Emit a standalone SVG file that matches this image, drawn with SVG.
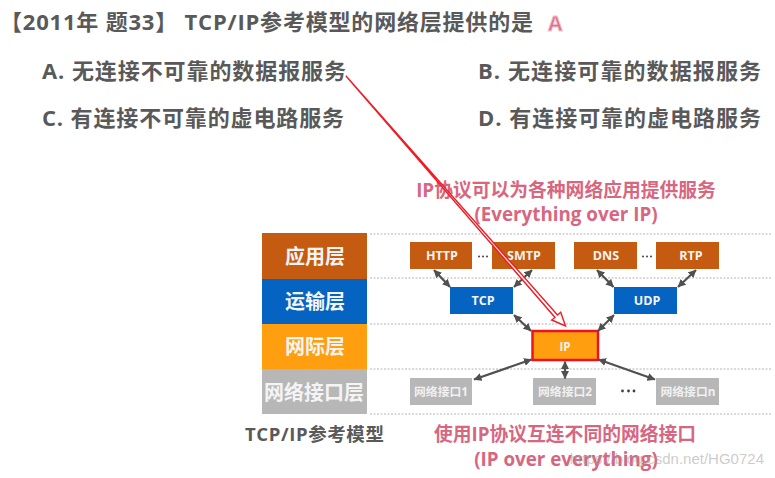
<svg xmlns="http://www.w3.org/2000/svg" width="775" height="478" viewBox="0 0 775 478">
<style>
text{font-family:"Open Sans","Noto Sans CJK SC",sans-serif;font-weight:700}
.q{font-size:22px;fill:#595959}
.pink{font-size:18.800px;fill:#d8667f;text-anchor:middle}
.lay{font-size:20px;fill:#f4f4f4;text-anchor:middle}
.box{font-size:12.500px;fill:#f4f4f4;text-anchor:middle}
.gbox{font-size:11.800px;fill:#f0f0f0;text-anchor:middle}
.dot{stroke:#b5b5b5;stroke-width:1;stroke-dasharray:2 1.5;fill:none}
.conn{stroke:#505050;stroke-width:2.2;fill:none;marker-start:url(#a);marker-end:url(#a)}
.d{fill:#555}
</style>
<defs>
<marker id="a" viewBox="0 0 8 8" refX="7.500" refY="4" markerWidth="8" markerHeight="8" markerUnits="userSpaceOnUse" orient="auto-start-reverse"><path d="M0 0L8 4L0 8z" fill="#505050"/></marker>
</defs>
<rect width="775" height="478" fill="#fff"/>
<g id="question">
<text class="q" x="0" y="30" textLength="533">【2011年 题33】 TCP/IP参考模型的网络层提供的是</text>
<text x="548" y="31" font-size="21" fill="#e0708a" stroke="#f3c5cf" stroke-width="0.8">A</text>
<text class="q" x="42" y="79" textLength="304">A. 无连接不可靠的数据报服务</text>
<text class="q" x="478" y="79" textLength="283">B. 无连接可靠的数据报服务</text>
<text class="q" x="42" y="126" textLength="302">C. 有连接不可靠的虚电路服务</text>
<text class="q" x="478" y="126" textLength="283">D. 有连接可靠的虚电路服务</text>
</g>
<text class="pink" x="566" y="197">IP协议可以为各种网络应用提供服务</text>
<text class="pink" x="566" y="221">(Everything over IP)</text>
<g id="dotted-lines">
<path class="dot" d="M370 234H772M370 278H772M370 324H772M370 369H772M370 414H772"/>
</g>
<g id="layer-app"><rect x="262" y="233" width="105" height="46" fill="#c55a11"/><text class="lay" x="315" y="264">应用层</text></g>
<g id="layer-transport"><rect x="262" y="279" width="105" height="45" fill="#0563c1"/><text class="lay" x="315" y="309">运输层</text></g>
<g id="layer-internet"><rect x="262" y="324" width="105" height="45" fill="#ff9f0f"/><text class="lay" x="315" y="354">网际层</text></g>
<g id="layer-link"><rect x="262" y="369" width="105" height="45" fill="#b7b7b7"/><text class="lay" x="314" y="400">网络接口层</text></g>
<g id="node-http"><rect x="410" y="242" width="62" height="27" fill="#c55a11"/><text class="box" x="442" y="260">HTTP</text></g>
<g id="node-smtp"><rect x="492" y="242" width="63" height="27" fill="#c55a11"/><text class="box" x="524" y="260">SMTP</text></g>
<g id="node-dns"><rect x="574" y="242" width="63" height="27" fill="#c55a11"/><text class="box" x="606" y="260">DNS</text></g>
<g id="node-rtp"><rect x="656" y="242" width="63" height="27" fill="#c55a11"/><text class="box" x="691" y="260">RTP</text></g>
<g id="node-tcp"><rect x="450" y="287" width="63" height="27" fill="#0563c1"/><text class="box" x="483" y="305">TCP</text></g>
<g id="node-udp"><rect x="614" y="287" width="63" height="27" fill="#0563c1"/><text class="box" x="647" y="305">UDP</text></g>
<g id="node-ip"><rect x="532.500" y="331" width="65.500" height="29" fill="#ff9f0f" stroke="#f01020" stroke-width="2.500"/><text class="box" x="565" y="351" style="font-size:11.500px">IP</text></g>
<g id="node-if1"><rect x="410" y="378" width="62" height="27" fill="#b7b7b7"/><text class="gbox" x="441" y="396">网络接口1</text></g>
<g id="node-if2"><rect x="533" y="378" width="63" height="27" fill="#b7b7b7"/><text class="gbox" x="565" y="396">网络接口2</text></g>
<g id="node-ifn"><rect x="656" y="378" width="63" height="27" fill="#b7b7b7"/><text class="gbox" x="688" y="396">网络接口n</text></g>
<g id="ellipses">
<g class="d"><circle cx="479" cy="256.500" r="1.100"/><circle cx="483" cy="256.500" r="1.100"/><circle cx="487" cy="256.500" r="1.100"/>
<circle cx="643" cy="256.500" r="1.100"/><circle cx="647" cy="256.500" r="1.100"/><circle cx="651" cy="256.500" r="1.100"/></g>
<g fill="#404040"><circle cx="622.500" cy="391" r="1.400"/><circle cx="628.500" cy="391" r="1.400"/><circle cx="634" cy="391" r="1.400"/></g>
</g>
<g id="connectors">
<path class="conn" d="M434 270L450 287"/>
<path class="conn" d="M532 270L514 287"/>
<path class="conn" d="M597 270L613.500 287"/>
<path class="conn" d="M696 270L678 287"/>
<path class="conn" d="M514 315L531 331"/>
<path class="conn" d="M614 315L598 331"/>
<path class="conn" d="M531.500 359.500L474 379.500"/>
<path class="conn" d="M565 361.500L565 378.500"/>
<path class="conn" d="M598.500 359.500L655 379.500"/>
<path d="M346 76L557.500 315L560.700 312.300L565.500 326L551.700 320L555 317.500Z" fill="#fff" fill-opacity="0.8" stroke="#ee1c25" stroke-width="1.400"/>
</g>
<text x="245" y="441" font-size="18.500" fill="#595959" textLength="139">TCP/IP参考模型</text>
<text class="pink" x="565" y="441">使用IP协议互连不同的网络接口</text>
<text class="pink" x="566" y="466">(IP over everything)</text>
<text x="764" y="464" font-size="15" text-anchor="end" style="font-weight:400;font-family:'Liberation Sans',sans-serif" fill="#a0a0a0" fill-opacity="0.55">https://blog.csdn.net/HG0724</text>
</svg>
